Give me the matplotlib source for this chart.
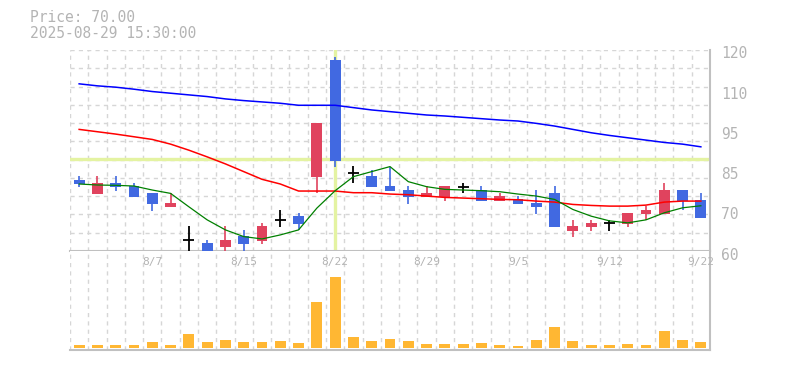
import matplotlib
matplotlib.use("Agg")
import matplotlib.pyplot as plt
import matplotlib.transforms as mtransforms
import numpy as np

# trading days shown on the chart
dates = ["8/1", "8/4", "8/5", "8/6", "8/7", "8/8", "8/12", "8/13", "8/14", "8/15",
         "8/18", "8/19", "8/20", "8/21", "8/22", "8/25", "8/26", "8/27", "8/28", "8/29",
         "9/1", "9/2", "9/3", "9/4", "9/5", "9/8", "9/9", "9/10", "9/11", "9/12",
         "9/16", "9/17", "9/18", "9/19", "9/22"]

opens = [81.2, 77.0, 80.2, 79.4, 77.2, 73.2, 63.2, 62.4, 61.3, 64.5, 63.1, 69.3, 70.4, 82.2, 117.0,
         83.2, 82.4, 79.4, 78.2, 76.0, 76.2, 79.0, 78.2, 75.0, 75.4, 74.4, 77.4, 66.1, 67.3, 68.4,
         68.1, 71.0, 71.0, 78.2, 75.2]
closes = [80.0, 80.2, 79.2, 76.2, 74.0, 74.3, 63.2, 59.8, 63.3, 62.1, 67.5, 69.3, 68.1, 98.3, 87.0,
          83.2, 79.2, 78.0, 76.2, 77.2, 79.4, 79.0, 75.0, 76.4, 74.0, 73.2, 67.3, 67.5, 68.4, 68.4,
          71.4, 72.2, 78.2, 74.8, 70.0]
highs = [82.4, 82.4, 82.4, 80.2, 77.2, 77.2, 67.5, 63.3, 67.5, 66.3, 68.4, 72.2, 71.4, 98.3, 117.9,
         85.4, 84.2, 85.2, 79.4, 79.4, 79.4, 80.2, 79.4, 77.4, 76.4, 78.2, 79.4, 69.3, 69.3, 69.3,
         71.4, 73.5, 80.4, 78.2, 77.4]
lows = [79.2, 77.0, 78.0, 76.2, 72.0, 73.2, 60.1, 59.5, 60.1, 60.1, 62.1, 67.3, 66.3, 77.2, 85.2,
        80.2, 79.2, 78.0, 74.0, 76.0, 75.0, 77.2, 75.0, 75.0, 74.0, 71.0, 67.3, 64.3, 66.1, 66.1,
        67.3, 69.3, 71.0, 72.2, 70.0]

ma_short = [80.0, 79.7, 79.6, 79.4, 78.2, 77.2, 73.2, 69.3, 66.3, 64.3, 63.6, 64.8, 66.3, 72.8, 78.0,
            82.2, 83.7, 85.2, 80.7, 79.2, 78.4, 78.2, 78.0, 77.7, 77.0, 76.4, 75.4, 72.4, 70.4, 69.0,
            68.4, 69.3, 71.4, 72.9, 73.5]
ma_mid = [96.3, 95.6, 94.9, 94.1, 93.3, 91.9, 90.1, 88.1, 86.0, 83.7, 81.4, 80.0, 77.9, 77.9, 77.9,
          77.4, 77.4, 77.0, 76.8, 76.4, 76.0, 75.8, 75.6, 75.4, 75.3, 74.9, 74.6, 73.9, 73.6, 73.4,
          73.4, 73.7, 74.6, 74.9, 74.9]
ma_long = [109.9, 109.3, 108.9, 108.3, 107.6, 107.1, 106.6, 106.1, 105.4, 104.9, 104.5, 104.1, 103.5,
           103.5, 103.5, 102.8, 102.1, 101.6, 101.1, 100.6, 100.3, 99.9, 99.5, 99.1, 98.8, 98.1, 97.3,
           96.3, 95.3, 94.5, 93.8, 93.1, 92.4, 91.9, 91.1]

volumes = [30, 30, 30, 30, 63, 30, 140, 63, 80, 63, 63, 73, 53, 463, 713, 113, 73, 90, 73, 40,
           40, 40, 50, 30, 20, 80, 210, 70, 30, 30, 40, 30, 170, 80, 60]

yticks = [60, 72, 84, 96, 108, 120]
ytick_labels = ["60", "70", "85", "95", "110", "120"]
label_every = 5
cross_idx = 14
cross_price = 87.5

UP = "#e0435e"
DOWN = "#4169e1"
GRID = "#d6d6d6"
SPINE = "#c0c0c0"
TEXT = "#b4b4b4"
MONO = "DejaVu Sans Mono"

W, H = 785, 370
fig = plt.figure(figsize=(W / 100, H / 100), dpi=100)
ax = fig.add_axes([70 / W, (H - 251) / H, 640 / W, 201 / H])
axv = fig.add_axes([70 / W, (H - 350) / H, 640 / W, 99 / H])

n = len(dates)
x = np.arange(n)

for a in (ax, axv):
    a.set_xlim(-0.5, n - 0.5)
    for g in np.arange(-0.5, n - 0.5, 1.0):
        a.axvline(g, color=GRID, lw=1, ls=(0, (3, 3)), zorder=0)
    for s in ("left", "top"):
        a.spines[s].set_visible(False)
    for s in ("right", "bottom"):
        a.spines[s].set_color(SPINE)
        a.spines[s].set_linewidth(1.5)
    a.set_xticks([])
    a.tick_params(length=0)

# price panel
ax.set_ylim(60, 120)
for g in np.linspace(60, 120, 12)[1:]:
    ax.axhline(g, color=GRID, lw=1, ls=(0, (3, 3)), zorder=0)
ax.yaxis.tick_right()
ax.set_yticks(yticks)
ax.set_yticklabels(ytick_labels, fontsize=10.5, color=TEXT, family=MONO)
ax.tick_params(axis="y", pad=8)
shift = mtransforms.ScaledTranslation(0, -2.5 / 100, fig.dpi_scale_trans)
for lab in ax.get_yticklabels():
    lab.set_transform(lab.get_transform() + shift)

ax.axhline(cross_price, color="#e4f3a2", lw=2.4, zorder=1)
ax.axvline(x[cross_idx], ymin=0.015, color="#e4f3a2", lw=2.4, zorder=1)

for i in range(n):
    o, c, hi, lo = opens[i], closes[i], highs[i], lows[i]
    if o == c:
        ax.vlines(x[i], lo, hi, color="black", lw=1.3, zorder=3)
        ax.hlines(o, x[i] - 0.3, x[i] + 0.3, color="black", lw=1.3, zorder=3)
        continue
    col = UP if c > o else DOWN
    ax.vlines(x[i], lo, hi, color=col, lw=1.2, zorder=3)
    ax.bar(x[i], abs(c - o), bottom=min(o, c), width=0.6, color=col, zorder=3)

ax.plot(x, ma_long, color="#0000ff", lw=1.1, zorder=4)
ax.plot(x, ma_mid, color="#ff0000", lw=1.1, zorder=4)
ax.plot(x, ma_short, color="#008000", lw=0.9, zorder=4)

# volume panel
axv.set_ylim(-20, 970)
axv.set_yticks([])
axv.bar(x, volumes, width=0.6, color="#ffb733", zorder=2)
for i in range(label_every - 1, n, label_every):
    axv.text(x[i], 0.889, dates[i], transform=axv.get_xaxis_transform(),
             ha="center", va="center", fontsize=8, color=TEXT, family=MONO)

fig.text(30 / W, 1 - 18 / H, "Price: 70.00", fontsize=10.5, color=TEXT,
         family=MONO, va="center", ha="left")
fig.text(30 / W, 1 - 33 / H, "2025-08-29 15:30:00", fontsize=10.5, color=TEXT,
         family=MONO, va="center", ha="left")

fig.savefig("out.png", dpi=100)
